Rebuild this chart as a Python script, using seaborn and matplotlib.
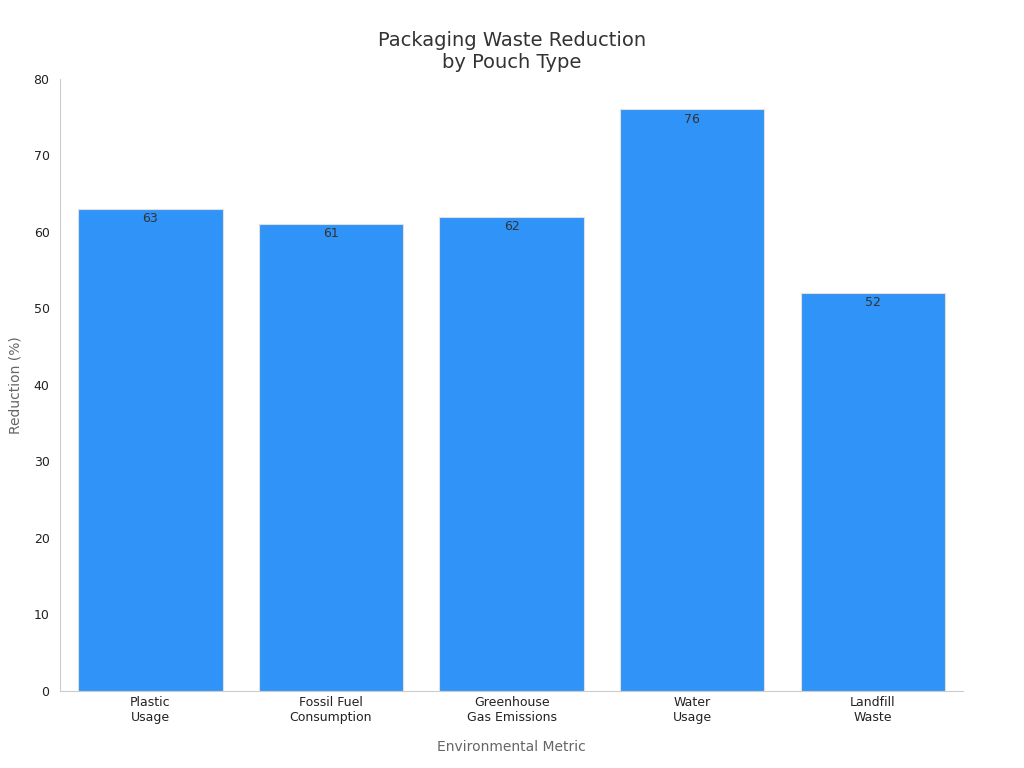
import matplotlib
matplotlib.use("Agg")
import matplotlib.pyplot as plt
import seaborn as sns
import pandas as pd

metrics = ["Plastic\nUsage", "Fossil Fuel\nConsumption", "Greenhouse\nGas Emissions",
           "Water\nUsage", "Landfill\nWaste"]
reduction = [63, 61, 62, 76, 52]

sns.set_style("white")
plt.rcParams['font.family'] = ['DejaVu Sans']

df = pd.DataFrame({"metric": metrics, "reduction": reduction})

fig = plt.figure(figsize=(10.24, 7.68), dpi=100)
ax = fig.add_axes([0.0586, 0.1003, 0.882, 0.797])
sns.barplot(data=df, x="metric", y="reduction", color="#2f93f7", saturation=1,
            width=0.8, edgecolor="#e0e0e0", linewidth=0.8, ax=ax)

for i, v in enumerate(reduction):
    ax.text(i, v - 0.4, str(v), ha="center", va="top", fontsize=9, color="#333333")

ax.set_ylim(0, 80)
ax.set_xlim(-0.5, 4.5)
ax.set_yticks(range(0, 81, 10))
ax.tick_params(axis="y", length=4, color="#cccccc", labelsize=9, labelcolor="#222222")
ax.tick_params(axis="x", length=0, labelsize=9, labelcolor="#222222")
for s in ["top", "right"]:
    ax.spines[s].set_visible(False)
for s in ["left", "bottom"]:
    ax.spines[s].set_color("#cccccc")
ax.set_xlabel("Environmental Metric", fontsize=10, color="#666666", labelpad=12)
ax.set_ylabel("Reduction (%)", fontsize=10, color="#666666", labelpad=8)
ax.set_title("Packaging Waste Reduction\nby Pouch Type", fontsize=14, color="#333333", pad=8)

fig.savefig("out.png", dpi=100)
